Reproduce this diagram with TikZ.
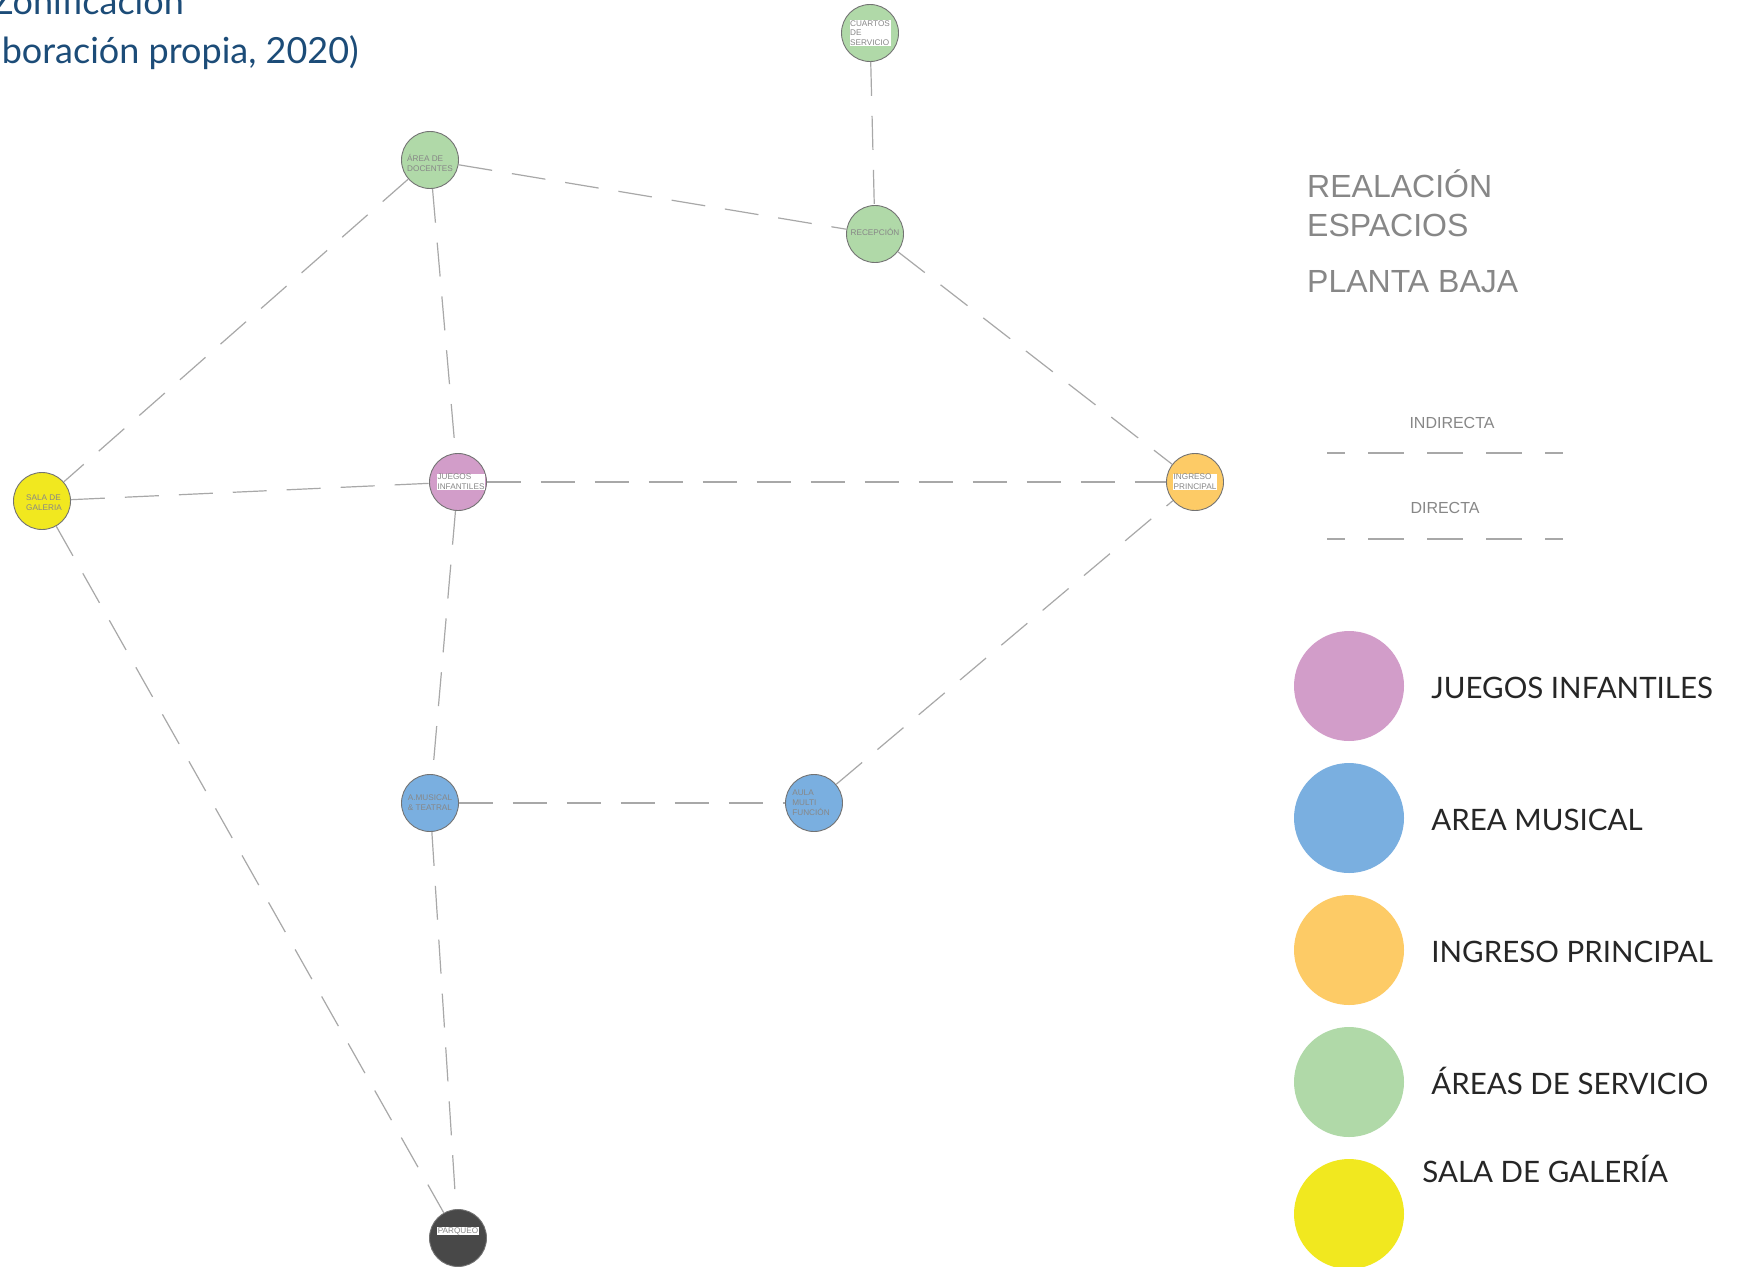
\documentclass[tikz,border=0pt]{standalone}
\usepackage{fontspec}
\setmainfont{Liberation Sans}
\newfontfamily\gill{Lato}
\usepackage{tikz}
\usetikzlibrary{positioning}

\definecolor{verde}{RGB}{176,217,168}
\definecolor{rosa}{RGB}{210,157,201}
\definecolor{azul}{RGB}{122,175,224}
\definecolor{naranja}{RGB}{253,203,102}
\definecolor{amarillo}{RGB}{241,232,31}
\definecolor{oscuro}{RGB}{72,72,72}
\definecolor{gris}{RGB}{135,135,135}
\definecolor{linea}{RGB}{168,168,168}
\definecolor{azultitulo}{RGB}{28,76,120}

\tikzset{
  espacio/.style={circle, draw=gray!90!black, line width=0.9pt, minimum size=57pt, inner sep=0pt},
  rotulo/.style={font=\fontsize{8.2}{9.8}\selectfont, text=gris, align=left, inner sep=0.6pt},
  fondo/.style={fill=white},
  enlace/.style={draw=linea, line width=1.2pt, dash pattern=on 34pt off 20pt},
  muestra/.style={circle, minimum size=110pt, inner sep=0pt},
  leyenda/.style={font=\gill\fontsize{29.5}{36}\selectfont, text=black!85, anchor=base west, inner sep=0pt},
  encabezado/.style={font=\fontsize{32}{38}\selectfont, text=gris, anchor=base west, inner sep=0pt},
  tipo/.style={font=\fontsize{16}{19}\selectfont, text=gris, anchor=base, inner sep=0pt},
  trazo/.style={draw=linea, line width=1.4pt, dash pattern=on 36pt off 23pt, dash phase=18pt},
  cabecera/.style={font=\gill\fontsize{36}{43}\selectfont, text=azultitulo, anchor=base east, inner sep=0pt},
}

\begin{document}
\begin{tikzpicture}[x=1pt, y=-1pt]
  \useasboundingbox[fill=white] (0,0) rectangle (1747,1266);

  % titulo cortado
  \node[cabecera] (zona) at (184,14) {Zonificación};
  \node[cabecera] (fuente) at (359,63) {boración propia, 2020)};

  % espacios
  \node[espacio, fill=verde] (cuartos) at (870,33) {};
  \node[rotulo, fondo] at (cuartos) {CUARTOS\\DE\\SERVICIO};
  \node[espacio, fill=verde] (docentes) at (430,160) {};
  \node[rotulo] at ([yshift=-3pt]docentes.center) {ÁREA DE\\DOCENTES};
  \node[espacio, fill=verde] (recepcion) at (875,234) {};
  \node[rotulo] at ([yshift=2pt]recepcion.center) {RECEPCIÓN};
  \node[espacio, fill=rosa] (juegos) at (458,482) {};
  \node[rotulo, fondo] at ([xshift=3pt]juegos.center) {JUEGOS\\INFANTILES};
  \node[espacio, fill=amarillo] (galeria) at (42,501) {};
  \node[rotulo] at ([xshift=2pt, yshift=-2pt]galeria.center) {SALA DE\\GALERIA};
  \node[espacio, fill=naranja] (ingreso) at (1195,482) {};
  \node[rotulo, fondo] at (ingreso) {INGRESO\\PRINCIPAL};
  \node[espacio, fill=azul] (musical) at (430,803) {};
  \node[rotulo] at (musical) {A.MUSICAL\\\& TEATRAL};
  \node[espacio, fill=azul] (aula) at (814,803) {};
  \node[rotulo] at ([xshift=-3pt]aula.center) {AULA\\MULTI\\FUNCIÓN};
  \node[espacio, fill=oscuro] (parqueo) at (458,1238) {};
  \node[rotulo, fondo] at ([yshift=7pt]parqueo.center) {PARQUEO};

  % relaciones
  \foreach \a/\b in {cuartos/recepcion, docentes/recepcion, recepcion/ingreso,
                     docentes/galeria, docentes/juegos, galeria/juegos,
                     juegos/ingreso, galeria/parqueo, juegos/musical,
                     musical/aula, aula/ingreso, musical/parqueo}
    \draw[enlace] (\a) -- (\b);

  % encabezado
  \node[encabezado] (rel) at (1307,197) {REALACIÓN};
  \node[encabezado] (esp) at (1307,236) {ESPACIOS};
  \node[encabezado] (planta) at (1307,292) {PLANTA BAJA};

  % tipos de relacion
  \node[tipo] (indirecta) at (1452,428) {INDIRECTA};
  \coordinate (ind-a) at (1327,453);
  \coordinate (ind-b) at (1563,453);
  \draw[trazo] (ind-a) -- (ind-b);
  \node[tipo] (directa) at (1445,513) {DIRECTA};
  \coordinate (dir-a) at (1327,539);
  \coordinate (dir-b) at (1563,539);
  \draw[trazo] (dir-a) -- (dir-b);

  % leyenda de colores
  \foreach \c [count=\i from 0] in {rosa, azul, naranja, verde, amarillo}
    \node[muestra, fill=\c] (m\i) at (1349,686+132*\i) {};
  \node[leyenda] at ([xshift=27pt, yshift=-12pt]m0.east) {JUEGOS INFANTILES};
  \node[leyenda] at ([xshift=27pt, yshift=-12pt]m1.east) {AREA MUSICAL};
  \node[leyenda] at ([xshift=27pt, yshift=-12pt]m2.east) {INGRESO PRINCIPAL};
  \node[leyenda] at ([xshift=27pt, yshift=-12pt]m3.east) {ÁREAS DE SERVICIO};
  \node[leyenda] at ([xshift=18pt, yshift=32pt]m4.east) {SALA DE GALERÍA};
\end{tikzpicture}
\end{document}
